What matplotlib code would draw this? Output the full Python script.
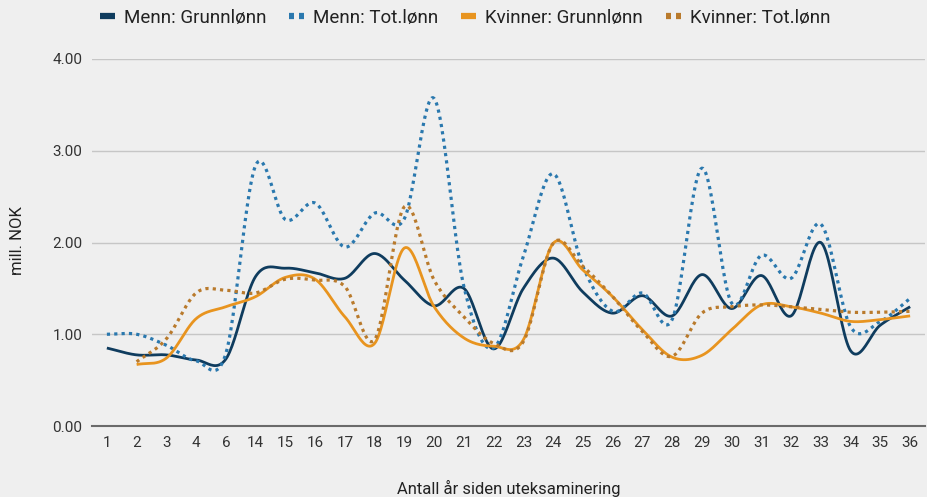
import numpy as np
import matplotlib
matplotlib.use("Agg")
import matplotlib.pyplot as plt
from matplotlib.lines import Line2D

plt.rcParams['font.family'] = ['Roboto', 'DejaVu Sans']

categories = ["1", "2", "3", "4", "6", "14", "15", "16", "17", "18", "19", "20", "21", "22",
              "23", "24", "25", "26", "27", "28", "29", "30", "31", "32", "33", "34", "35", "36"]

menn_grunn = [0.85, 0.775, 0.775, 0.72, 0.73, 1.63, 1.72, 1.67, 1.61, 1.88, 1.59, 1.31, 1.50, 0.84,
              1.50, 1.83, 1.46, 1.23, 1.42, 1.20, 1.65, 1.28, 1.64, 1.20, 2.00, 0.82, 1.10, 1.30]
menn_tot = [1.00, 1.00, 0.88, 0.71, 0.79, 2.84, 2.25, 2.43, 1.95, 2.32, 2.26, 3.57, 1.52, 0.85,
            1.85, 2.75, 1.74, 1.25, 1.45, 1.16, 2.81, 1.34, 1.86, 1.61, 2.20, 1.08, 1.14, 1.39]
kv_grunn = [None, 0.67, 0.74, 1.17, 1.30, 1.41, 1.62, 1.60, 1.19, 0.90, 1.94, 1.30, 0.96, 0.87,
            0.94, 1.99, 1.70, 1.41, 1.05, 0.75, 0.77, 1.05, 1.32, 1.30, 1.23, 1.14, 1.16, 1.20]
kv_tot = [None, 0.70, 0.95, 1.45, 1.48, 1.45, 1.60, 1.59, 1.52, 0.94, 2.39, 1.59, 1.19, 0.90,
          0.92, 1.99, 1.74, 1.41, 1.03, 0.76, 1.23, 1.30, 1.32, 1.30, 1.27, 1.24, 1.24, 1.25]

labels = ["Menn: Grunnlønn", "Menn: Tot.lønn", "Kvinner: Grunnlønn", "Kvinner: Tot.lønn"]
colors = ["#0f3c5e", "#2a78ae", "#e8941f", "#b97a2c"]
styles = ["-", (0, (1, 1.3)), "-", (0, (1, 1.3))]


def smooth(xs, ys, n=24):
    xs = np.asarray(xs, float)
    ys = np.asarray(ys, float)
    m = np.zeros_like(ys)
    m[1:-1] = (ys[2:] - ys[:-2]) / 2.0
    m[0] = ys[1] - ys[0]
    m[-1] = ys[-1] - ys[-2]
    ox, oy = [], []
    for i in range(len(xs) - 1):
        t = np.linspace(0, 1, n, endpoint=False)
        h00 = 2 * t**3 - 3 * t**2 + 1
        h10 = t**3 - 2 * t**2 + t
        h01 = -2 * t**3 + 3 * t**2
        h11 = t**3 - t**2
        ox.append(xs[i] + t * (xs[i + 1] - xs[i]))
        oy.append(h00 * ys[i] + h10 * m[i] + h01 * ys[i + 1] + h11 * m[i + 1])
    ox.append([xs[-1]])
    oy.append([ys[-1]])
    return np.concatenate(ox), np.concatenate(oy)


W, H = 927, 497
fig = plt.figure(figsize=(W / 100, H / 100), dpi=100, facecolor="#efefef")
ax = fig.add_axes([92 / W, 1 - 426 / H, (925 - 92) / W, (426 - 59) / H])
ax.set_facecolor("#efefef")

x = np.arange(len(categories))
series = [menn_grunn, menn_tot, kv_grunn, kv_tot]
for s, lab, c, ls in zip(series, labels, colors, styles):
    idx = [i for i, v in enumerate(s) if v is not None]
    sx, sy = smooth(x[idx], [s[i] for i in idx])
    ax.plot(sx, sy, color=c, lw=2.0 if ls == "-" else 2.3, linestyle=ls,
            solid_capstyle="butt", dash_capstyle="butt", zorder=3)

ax.set_xlim(-0.5, 27.5)
ax.set_ylim(0, 4)
ax.set_yticks([0, 1, 2, 3, 4])
ax.set_yticklabels([f"{v:.2f}" for v in [0, 1, 2, 3, 4]])
ax.set_xticks(x)
ax.set_xticklabels(categories)
ax.grid(axis="y", color="#c6c6c6", lw=1.0)
ax.set_axisbelow(True)
for sp in ["top", "right", "left"]:
    ax.spines[sp].set_visible(False)
ax.spines["bottom"].set_color("#6a6a6a")
ax.spines["bottom"].set_linewidth(1.5)
ax.tick_params(axis="both", length=0, labelsize=11, colors="#333333")
ax.tick_params(axis="y", pad=7)
ax.tick_params(axis="x", pad=7)

fig.text(508.5 / W, 1 - 488 / H, "Antall år siden uteksaminering", fontsize=12, color="#222222",
         ha="center", va="center")
fig.text(17 / W, 1 - 241 / H, "mill. NOK", fontsize=12, color="#222222",
         ha="center", va="center", rotation=90)

handles = [Line2D([0], [0], color=c, lw=4.5, linestyle=("-" if ls == "-" else (0, (0.8, 0.8))),
                  solid_capstyle="butt", dash_capstyle="butt")
           for c, ls in zip(colors, styles)]
fig.legend(handles, labels, loc="center", bbox_to_anchor=(465 / W, 1 - 18 / H), ncol=4,
           frameon=False, fontsize=13.5, handlelength=0.8, handletextpad=0.5,
           columnspacing=1.2, labelcolor="#222222", borderpad=0)

fig.savefig("out.png", dpi=100, facecolor=fig.get_facecolor())
